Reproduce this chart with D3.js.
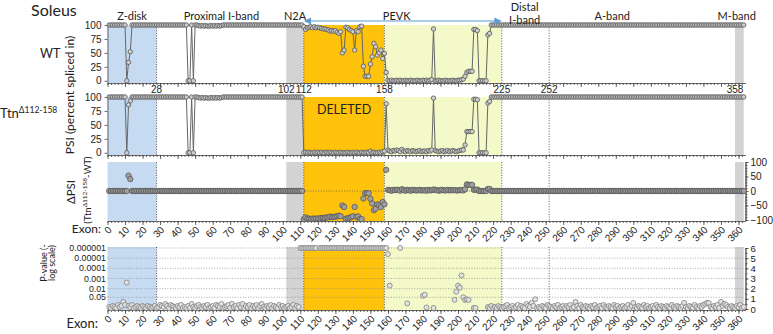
<!DOCTYPE html>
<html>
<head>
<meta charset="utf-8">
<script src="https://cdnjs.cloudflare.com/ajax/libs/d3/7.8.5/d3.min.js"></script>
<style>
  body { margin: 0; background: #fff; }
  svg text { font-family: "Liberation Sans", Arial, sans-serif; fill: #222; }
  .lbl { font-family: Lato, "Open Sans", sans-serif !important; }
</style>
</head>
<body>
<svg id="chart" width="773" height="334"></svg>
<script>
// exon numbers 1..363
const exons = d3.range(1, 364);

// titin regions (exon boundaries)
const regionStart = [0, 102, 112, 158, 358];
const regionEnd   = [28, 112, 158, 225, 363];
const regionNames = ["Z-disk", "Proximal I-band", "N2A", "PEVK", "Distal|I-band", "A-band", "M-band"];
const regionNameExon = [14, 65, 107, 165, 238, 288, 359];
const boundaryExons = [28, 112, 158, 225, 252];
const markedExons = [28, 102, 112, 158, 225, 252, 358];
const deletedExons = [112, 158];

// tick values
const xTicks = d3.range(0, 361, 10);
const psiTicks = [0, 25, 50, 75, 100];
const dpsiTicks = [-100, -50, 0, 50, 100];
const pTicks = [0, 1, 2, 3, 4, 5, 6];
const pLabels = ["0.000001", "0.00001", "0.0001", "0.001", "0.01", "0.05"];
const pLabelVals = [6, 5, 4, 3, 2, 1.15];

// PSI, wild type (exons 1..363)
const psiWT = [
  100,100,100,100,100,100,100,100,100,100,0,33,52,100,100,100,100,100,100,100,
  100,100,100,100,100,100,100,100,100,100,100,100,100,100,100,100,100,100,100,100,
  100,100,100,100,100,0,0,100,0,100,100,99,98,99,98,99,98,98,99,98,
  99,98,99,98,99,100,100,100,100,100,100,100,100,100,100,100,100,100,100,100,
  100,100,100,100,100,100,100,100,100,100,100,100,100,100,100,100,100,100,100,100,
  100,100,100,100,100,100,100,100,100,100,100,97,92,95,96,97,95,97,95,96,
  95,94,93,93,92,91,89,90,89,90,87,85,88,50,55,96,95,92,90,88,
  55,90,88,97,98,26,8,8,8,30,43,67,61,46,50,55,40,49,15,1,
  0,1,0,0,1,0,1,0,0,1,0,0,1,0,0,0,1,0,0,1,
  0,1,0,1,2,93,0,0,1,0,0,0,1,0,0,0,1,0,0,1,
  1,2,3,8,15,17,17,17,92,92,90,0,0,0,0,0,82,85,100,100,
  100,100,100,100,100,100,100,100,100,100,100,100,100,100,100,100,100,100,100,100,
  100,100,100,100,100,100,100,100,100,100,100,100,100,100,100,100,100,100,100,100,
  100,100,100,100,100,100,100,100,100,100,100,100,100,100,100,100,100,100,100,100,
  100,100,100,100,100,100,100,100,100,100,100,100,100,100,100,100,100,100,100,100,
  100,100,100,100,100,100,100,100,100,100,100,100,100,100,100,100,100,100,100,100,
  100,100,100,100,100,100,100,100,100,100,100,100,100,100,100,100,100,100,100,100,
  100,100,100,100,100,100,100,100,100,100,100,100,100,100,100,100,100,100,100,100,
  100,100,100
];

// PSI, Ttn delta112-158
const psiTtn = [
  100,100,100,100,100,100,100,100,100,100,0,86,93,100,100,100,100,100,100,100,
  100,100,100,100,100,100,100,100,100,100,100,100,100,100,100,100,100,100,100,100,
  100,100,100,100,100,0,0,100,0,100,100,99,98,99,98,99,98,98,99,98,
  99,98,99,98,99,100,100,100,100,100,100,100,100,100,100,100,100,100,100,100,
  100,100,100,100,100,100,100,100,100,100,100,100,100,100,100,100,100,100,100,100,
  100,100,100,100,100,100,100,100,100,100,100,0,1,0,1,0,0,1,0,1,
  0,1,0,0,1,0,1,0,0,1,0,0,1,0,0,0,1,0,0,1,
  0,1,0,0,1,0,0,1,0,3,0,1,0,0,1,0,2,3,88,5,
  3,2,4,3,5,4,2,6,3,2,4,3,2,4,3,2,3,4,2,3,
  3,2,4,3,5,98,4,3,2,3,4,2,3,4,2,3,4,3,2,3,
  4,5,5,14,38,38,38,38,96,96,95,0,0,0,0,0,89,92,100,100,
  100,100,100,100,100,100,100,100,100,100,100,100,100,100,100,100,100,100,100,100,
  100,100,100,100,100,100,100,100,100,100,100,100,100,100,100,100,100,100,100,100,
  100,100,100,100,100,100,100,100,100,100,100,100,100,100,100,100,100,100,100,100,
  100,100,100,100,100,100,100,100,100,100,100,100,100,100,100,100,100,100,100,100,
  100,100,100,100,100,100,100,100,100,100,100,100,100,100,100,100,100,100,100,100,
  100,100,100,100,100,100,100,100,100,100,100,100,100,100,100,100,100,100,100,100,
  100,100,100,100,100,100,100,100,100,100,100,100,100,100,100,100,100,100,100,100,
  100,100,100
];

// -log10(p), null = not tested
const pvalLog = [
  0.2,0.1,0.3,0.2,0.1,0.4,0.2,0.3,0.7,0.4,2.6,0.3,0.2,0.4,0.1,0.2,0.3,0.2,0.1,0.3,
  0.2,0.1,0.3,0.2,0.1,0.2,0.3,0.1,0.2,0.4,0.3,0.2,0.5,0.3,0.1,0.4,0.3,0.2,0.1,0.3,
  0.2,0.4,0.1,0.2,0.1,0.3,0.1,0.5,0.2,0.1,0.3,0.4,0.2,0.1,0.3,0.2,0.4,0.1,0.2,0.3,
  0.1,0.4,0.3,0.2,0.5,0.1,0.2,0.3,0.4,0.1,0.5,0.2,0.3,0.1,0.4,0.2,0.5,0.1,0.3,0.2,
  0.4,0.1,0.3,0.2,0.4,0.1,0.3,0.5,0.2,0.1,0.3,0.2,0.4,0.1,0.3,0.2,0.1,0.4,0.2,0.3,
  0.1,0.2,0.3,0.1,0.2,0.4,0.1,0.3,0.2,6,6,6,6,6,6,6,6,6,6,null,
  6,6,6,6,6,6,6,6,6,6,6,6,6,6,6,6,6,6,6,6,
  6,6,6,6,6,6,6,6,6,6,6,6,6,6,6,6,6,6,6,5.4,
  2.3,null,null,null,null,null,6,null,null,null,0.55,null,null,null,null,null,null,null,null,1.3,
  1.4,0.15,null,null,null,0.1,null,null,null,null,null,null,null,null,null,null,null,0.9,1.7,2.3,
  2.1,3.3,1.15,0.9,0.95,0.9,null,null,0.1,0.1,null,null,null,null,null,null,0.2,0.1,0.3,0.1,
  0.2,0.1,0.3,0.2,0.1,0.2,0.3,0.4,0.1,0.2,0.3,0.1,0.2,0.4,0.1,0.3,0.2,0.1,0.5,0.3,
  0.2,0.6,0.3,0.95,0.1,0.2,0.1,0.3,0.2,0.1,0.4,0.3,0.2,0.1,0.3,0.2,0.4,0.1,0.2,0.3,
  0.1,0.3,0.2,0.4,0.1,0.2,0.7,0.3,0.1,0.4,0.2,0.1,0.3,0.2,0.1,0.3,0.2,0.4,0.1,0.2,
  0.3,0.1,0.4,0.2,0.1,0.3,0.2,0.1,0.4,0.2,0.3,0.1,0.2,0.3,0.1,0.2,0.4,0.1,0.3,0.6,
  0.2,0.1,0.3,0.2,0.1,0.4,0.2,0.3,0.1,0.2,0.3,0.1,0.4,0.2,0.1,0.3,0.2,0.1,0.3,0.2,
  0.1,0.4,0.2,0.1,0.3,0.2,0.1,0.3,0.6,0.2,0.1,0.3,0.2,0.1,0.4,0.2,0.1,0.3,0.2,0.4,
  0.5,0.6,0.6,0.2,0.1,0.3,0.2,0.4,0.1,0.7,0.3,0.5,0.4,0.2,0.1,0.3,0.2,0.1,0.3,0.2,
  0.4,0.1,0.2
];

const svg = d3.select("#chart");
const regionColors = ["#c6dbf2", "#d3d3d3", "#ffc30b", "#f3f9c8", "#d3d3d3"];

const x = d3.scaleLinear().domain([0, 364]).range([107.5, 745.5]);

// the four stacked panels
const panels = [
  { y: d3.scaleLinear().domain([-4, 100]).range([83, 25]), top: 25, bottom: 83 },
  { y: d3.scaleLinear().domain([-4, 100]).range([155, 97]), top: 97, bottom: 155 },
  { y: d3.scaleLinear().domain([-100, 100]).range([220, 162]), top: 162, bottom: 221 },
  { y: d3.scaleLinear().domain([0, 6]).range([309, 248]), top: 247, bottom: 310 }
];

// backgrounds + dotted boundaries
panels.forEach(p => {
  const g = svg.append("g");
  g.selectAll("rect")
    .data(regionStart)
    .enter().append("rect")
    .attr("x", (d) => x(d))
    .attr("width", (d, i) => x(regionEnd[i]) - x(d))
    .attr("y", p.top)
    .attr("height", p.bottom - p.top)
    .attr("fill", (d, i) => regionColors[i]);
  g.selectAll("line")
    .data(boundaryExons)
    .enter().append("line")
    .attr("x1", d => x(d)).attr("x2", d => x(d))
    .attr("y1", p.top).attr("y2", p.bottom)
    .attr("stroke", "#333")
    .attr("stroke-width", 0.8)
    .attr("stroke-dasharray", "1,1.6");
});

// dotted grid lines
svg.append("line")
  .attr("x1", x(0)).attr("x2", x(363))
  .attr("y1", panels[2].y(0)).attr("y2", panels[2].y(0))
  .attr("stroke", "#555").attr("stroke-width", 0.8).attr("stroke-dasharray", "1,1.6");
svg.append("g").selectAll("line")
  .data(pLabelVals)
  .enter().append("line")
  .attr("x1", x(0)).attr("x2", x(363))
  .attr("y1", d => panels[3].y(d)).attr("y2", d => panels[3].y(d))
  .attr("stroke", "#888").attr("stroke-width", 0.7).attr("stroke-dasharray", "1,1.6");

// x axes (ruler look)
function styleAxis(g, size) {
  g.selectAll("path, line").attr("stroke", "#444").attr("stroke-width", 0.8);
  g.selectAll("text").style("font-size", (size || 10) + "px").attr("fill", "#222");
}
panels.forEach((p, i) => {
  const minor = svg.append("g").attr("transform", `translate(0,${p.bottom})`)
    .call(d3.axisBottom(x).tickValues(d3.range(0, 364, 2)).tickSize(2).tickSizeOuter(0).tickFormat(""));
  styleAxis(minor);
  const major = svg.append("g").attr("transform", `translate(0,${p.bottom})`)
    .call(d3.axisBottom(x).tickValues(xTicks).tickSize(4).tickSizeOuter(0)
      .tickFormat(i >= 2 ? d3.format("d") : ""));
  styleAxis(major, 10);
  major.select(".domain").remove();
  if (i >= 2) {
    major.selectAll("text")
      .attr("x", 0).attr("y", 0).attr("dy", "0.35em")
      .attr("transform", "translate(2,7) rotate(-45)")
      .style("text-anchor", "end");
  }
});

// y axes
[0, 1].forEach(i => {
  const g = svg.append("g").attr("transform", `translate(${x(0)},0)`)
    .call(d3.axisLeft(panels[i].y).tickValues(psiTicks).tickSize(3).tickSizeOuter(0));
  styleAxis(g, 10);
});
styleAxis(svg.append("g").attr("transform", `translate(${x(364)},0)`)
  .call(d3.axisRight(panels[2].y).tickValues(dpsiTicks).tickSize(3).tickPadding(2).tickSizeOuter(0)), 10);
styleAxis(svg.append("g").attr("transform", `translate(${x(364)},0)`)
  .call(d3.axisRight(panels[2].y).tickValues(d3.range(-100, 101, 10)).tickSize(2).tickFormat("")));
styleAxis(svg.append("g").attr("transform", `translate(${x(364)},0)`)
  .call(d3.axisRight(panels[3].y).tickValues(pTicks).tickSize(3).tickPadding(2).tickSizeOuter(0)
    .tickFormat(d3.format("d"))), 9.5);
styleAxis(svg.append("g").attr("transform", `translate(${x(364)},0)`)
  .call(d3.axisRight(panels[3].y).tickValues(d3.range(0, 6.01, 0.5)).tickSize(2).tickFormat("")));
svg.append("g").selectAll("text")
  .data(pLabels)
  .enter().append("text")
  .attr("x", 106)
  .attr("y", (d, i) => panels[3].y(pLabelVals[i]))
  .attr("dy", "0.35em")
  .attr("text-anchor", "end")
  .style("font-size", "8.8px")
  .text(d => d);

// PSI series with lines
function drawPsi(values, p) {
  const pts = exons.map((e, i) => [e, values[i]]);
  svg.append("path")
    .datum(pts)
    .attr("d", d3.line().x(d => x(d[0])).y(d => p.y(d[1])))
    .attr("fill", "none")
    .attr("stroke", "#666")
    .attr("stroke-width", 1);
  svg.append("g").selectAll("circle")
    .data(pts)
    .enter().append("circle")
    .attr("cx", d => x(d[0]))
    .attr("cy", d => p.y(d[1]))
    .attr("r", 2.2)
    .attr("fill", "#cfcfcf")
    .attr("stroke", "#555")
    .attr("stroke-width", 0.8);
}
drawPsi(psiWT, panels[0]);
drawPsi(psiTtn, panels[1]);

// delta PSI = Ttn - WT
const dpsi = exons.map((e, i) => [e, psiTtn[i] - psiWT[i]]);
svg.append("g").selectAll("circle")
  .data(dpsi)
  .enter().append("circle")
  .attr("cx", d => x(d[0]))
  .attr("cy", d => panels[2].y(d[1]))
  .attr("r", 2.7)
  .attr("fill", "#a0a0a0")
  .attr("stroke", "#555")
  .attr("stroke-width", 0.8);

// p-values
svg.append("g").selectAll("circle")
  .data(exons.map((e, i) => [e, pvalLog[i]]).filter(d => d[1] !== null))
  .enter().append("circle")
  .attr("cx", d => x(d[0]))
  .attr("cy", d => panels[3].y(d[1]))
  .attr("r", 2.5)
  .attr("fill", "#e2e2e2")
  .attr("stroke", "#808080")
  .attr("stroke-width", 0.8);

// exon boundary numbers between panel 1 and 2
svg.append("g").selectAll("text")
  .data(markedExons)
  .enter().append("text")
  .attr("x", d => x(d))
  .attr("y", 93)
  .attr("text-anchor", "middle")
  .style("font-size", "10px")
  .attr("fill", d => deletedExons.includes(d) ? "#e00000" : "#222")
  .text(d => d);

// region names
regionNames.forEach((n, i) => {
  const parts = n.split("|");
  parts.forEach((s, j) => {
    svg.append("text").attr("class", "lbl")
      .attr("x", x(regionNameExon[i]))
      .attr("y", parts.length > 1 ? 11 + j * 12.5 : 20)
      .attr("text-anchor", "middle")
      .style("font-size", "11px")
      .text(s);
  });
});

// PEVK arrow
const defs = svg.append("defs");
defs.append("marker").attr("id", "ah").attr("viewBox", "0 0 10 10")
  .attr("refX", 9).attr("refY", 5).attr("markerWidth", 6).attr("markerHeight", 6)
  .attr("orient", "auto-start-reverse")
  .append("path").attr("d", "M0,0 L10,5 L0,10 z").attr("fill", "#5b9bd5");
svg.append("line")
  .attr("x1", x(112) + 1).attr("x2", x(225) - 1)
  .attr("y1", 21).attr("y2", 21)
  .attr("stroke", "#5b9bd5").attr("stroke-width", 1.2)
  .attr("marker-start", "url(#ah)").attr("marker-end", "url(#ah)");

// titles and labels
svg.append("text").attr("class", "lbl").attr("x", 31).attr("y", 16)
  .style("font-size", "16px").text("Soleus");
svg.append("text").attr("class", "lbl").attr("x", 40).attr("y", 58)
  .style("font-size", "12.5px").text("WT");
const ttnLbl = svg.append("text").attr("class", "lbl").attr("x", 0).attr("y", 118)
  .style("font-size", "13px");
ttnLbl.append("tspan").text("Ttn");
ttnLbl.append("tspan").attr("dy", -5).style("font-size", "8.5px").text("Δ112-158");

svg.append("text").attr("class", "lbl").attr("x", x(135)).attr("y", 114)
  .attr("text-anchor", "middle").style("font-size", "12.5px").text("DELETED");

svg.append("text").attr("class", "lbl")
  .attr("transform", "translate(74,95) rotate(-90)")
  .attr("text-anchor", "middle").style("font-size", "12px")
  .text("PSI (percent spliced in)");
svg.append("text").attr("class", "lbl")
  .attr("transform", "translate(75,192) rotate(-90)")
  .attr("text-anchor", "middle").style("font-size", "11.5px")
  .text("ΔPSI");
const dl = svg.append("text").attr("class", "lbl")
  .attr("transform", "translate(91,190) rotate(-90)")
  .attr("text-anchor", "middle").style("font-size", "9.5px");
dl.append("tspan").text("(Ttn");
dl.append("tspan").attr("dy", -4).style("font-size", "6.5px").text("Δ112-158");
dl.append("tspan").attr("dy", 4).text("-WT)");

svg.append("text").attr("class", "lbl")
  .attr("transform", "translate(47,263) rotate(-90)")
  .attr("text-anchor", "middle").style("font-size", "9px").text("P-value (-");
svg.append("text").attr("class", "lbl")
  .attr("transform", "translate(55,263) rotate(-90)")
  .attr("text-anchor", "middle").style("font-size", "9px").text("log scale)");

svg.append("text").attr("class", "lbl").attr("x", 101).attr("y", 233)
  .attr("text-anchor", "end").style("font-size", "12px").text("Exon:");
svg.append("text").attr("class", "lbl").attr("x", 98).attr("y", 328)
  .attr("text-anchor", "end").style("font-size", "13px").text("Exon:");
</script>
</body>
</html>
